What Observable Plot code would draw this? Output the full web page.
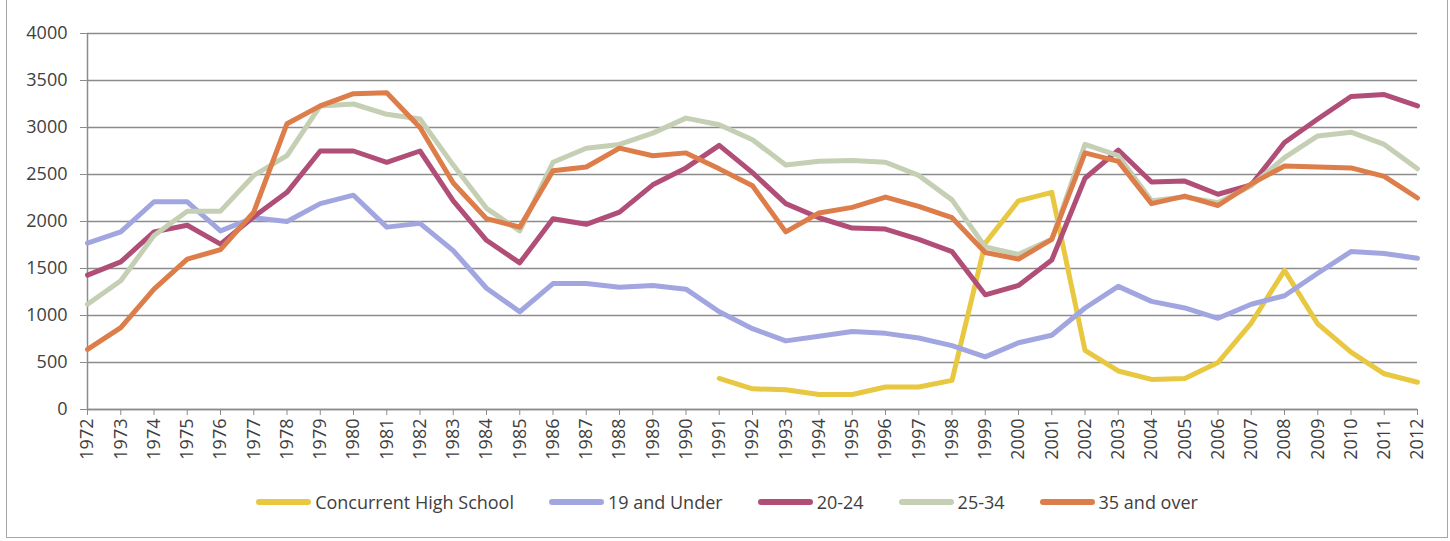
<!DOCTYPE html>
<html><head><meta charset="utf-8">
<script src="https://cdn.jsdelivr.net/npm/d3@7"></script>
<script src="https://cdn.jsdelivr.net/npm/@observablehq/plot@0.6"></script>
<style>
body{margin:0;background:#fff;font-family:"Open Sans",sans-serif;}
#wrap{position:relative;width:1450px;height:541px;overflow:hidden;background:#fff}
#frame{position:absolute;left:6px;top:-3px;width:1442px;height:541px;border:1.5px solid #a6a6a6;box-sizing:border-box;pointer-events:none}
#chart{position:absolute;left:0;top:0}
#chart svg text{font-size:18px !important}
#legend{position:absolute;top:490px;left:2px;width:1450px;display:flex;justify-content:center;align-items:center;gap:35px;font-size:18px;color:#404040}
.item{display:flex;align-items:center}
.sw{width:55px;height:6px;border-radius:3px;margin-right:4px}
</style></head>
<body>
<div id="wrap"><div id="chart"></div><div id="legend"></div><div id="frame"></div></div>
<script>
const years = [1972,1973,1974,1975,1976,1977,1978,1979,1980,1981,1982,1983,1984,1985,1986,1987,1988,1989,1990,1991,1992,1993,1994,1995,1996,1997,1998,1999,2000,2001,2002,2003,2004,2005,2006,2007,2008,2009,2010,2011,2012];
const seriesNames = ["Concurrent High School","19 and Under","20-24","25-34","35 and over"];
const seriesColors = ["#E8C841","#A2A6E0","#B04E78","#C4CFB4","#DC7D4A"];
const concurrentHS = [null,null,null,null,null,null,null,null,null,null,null,null,null,null,null,null,null,null,null,
  330,220,210,160,160,240,240,310,1770,2220,2310,630,410,320,330,500,920,1480,910,610,380,290];
const under19 = [1770,1890,2210,2210,1900,2040,2000,2190,2280,1940,1980,1690,1290,1040,1340,1340,1300,1320,1280,1040,
  860,730,780,830,810,760,680,560,710,790,1080,1310,1150,1080,970,1120,1210,1450,1680,1660,1610];
const age20to24 = [1430,1570,1890,1960,1760,2050,2310,2750,2750,2630,2750,2220,1800,1560,2030,1970,2100,2390,2570,2810,
  2520,2190,2040,1930,1920,1810,1680,1220,1320,1590,2460,2760,2420,2430,2290,2390,2840,3090,3330,3350,3230];
const age25to34 = [1120,1370,1850,2110,2110,2490,2700,3230,3250,3140,3090,2600,2140,1900,2630,2780,2820,2940,3100,3030,
  2870,2600,2640,2650,2630,2490,2230,1730,1650,1810,2820,2700,2220,2260,2200,2380,2680,2910,2950,2820,2560];
const age35plus = [640,870,1280,1600,1700,2100,3040,3230,3360,3370,3000,2410,2030,1940,2540,2580,2780,2700,2730,2560,
  2380,1890,2090,2150,2260,2160,2040,1670,1600,1810,2730,2640,2190,2270,2170,2400,2590,2580,2570,2480,2250];
const yTicks = [0,500,1000,1500,2000,2500,3000,3500,4000];

const allSeries = [concurrentHS, under19, age20to24, age25to34, age35plus];
const table = [];
allSeries.forEach((vals, i) => years.forEach((yr, j) => {
  if (vals[j] != null) table.push({series: seriesNames[i], year: yr, value: vals[j]});
}));

const lineMarks = seriesNames.map((name, i) =>
  Plot.line(table.filter(d => d.series === name), {
    x: "year", y: "value", stroke: seriesColors[i], strokeWidth: 5,
    strokeLinejoin: "round", strokeLinecap: "round"
  }));

const chart = Plot.plot({
  width: 1450, height: 470,
  marginLeft: 87, marginRight: 33, marginTop: 33, marginBottom: 61,
  style: {fontFamily: "Open Sans", fontSize: "18px", color: "#404040", background: "transparent"},
  x: {domain: [1972, 2012], label: null},
  y: {domain: [0, 4000], label: null},
  marks: [
    Plot.gridY(yTicks, {stroke: "#8c8c8c", strokeOpacity: 1, strokeWidth: 1.5}),
    Plot.ruleX([1972], {stroke: "#8c8c8c", strokeWidth: 1.5}),
    Plot.ruleY([0], {stroke: "#8c8c8c", strokeWidth: 1.5}),
    ...lineMarks,
    Plot.axisY(yTicks, {tickSize: 7, tickPadding: 13, stroke: "#8c8c8c", fill: "#404040", tickFormat: d => String(d)}),
    Plot.axisX(years, {tickSize: 6, tickPadding: 3, tickRotate: -90, stroke: "#8c8c8c", fill: "#404040", tickFormat: d => String(d)})
  ]
});
document.getElementById("chart").appendChild(chart);

const legend = document.getElementById("legend");
seriesNames.forEach((name, i) => {
  const it = document.createElement("div"); it.className = "item";
  const sw = document.createElement("div"); sw.className = "sw"; sw.style.background = seriesColors[i];
  const tx = document.createElement("span"); tx.textContent = name;
  it.appendChild(sw); it.appendChild(tx); legend.appendChild(it);
});
</script>
</body></html>
